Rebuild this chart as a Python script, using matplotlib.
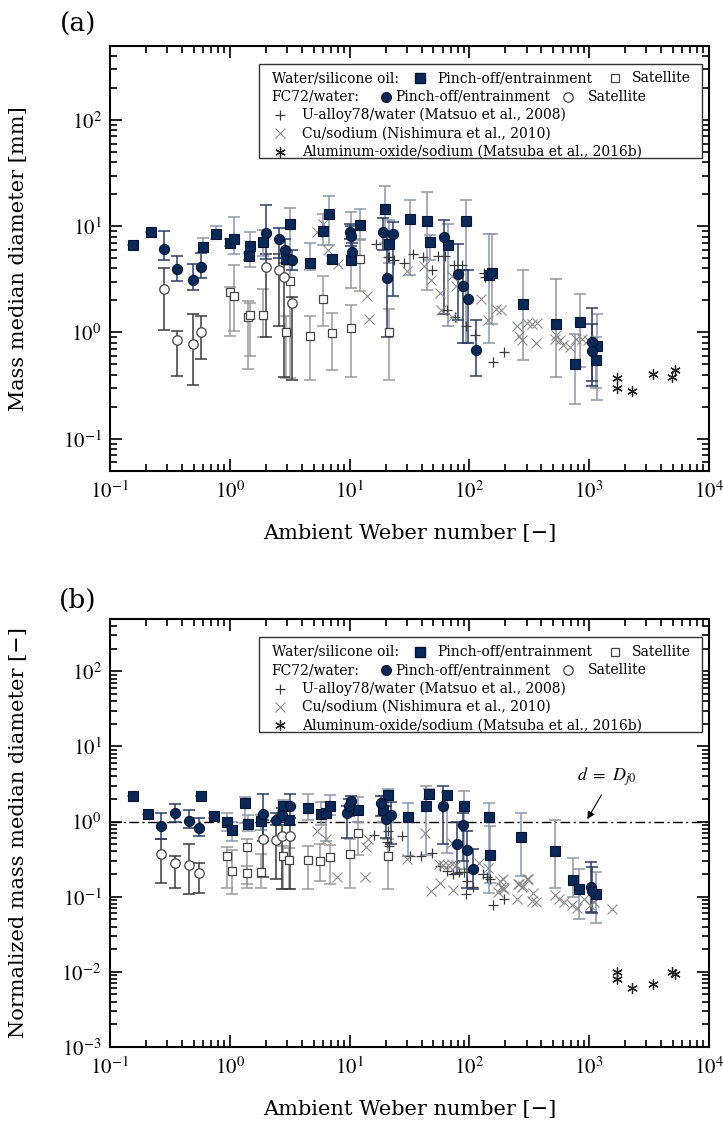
import numpy as np
import matplotlib
matplotlib.use('Agg')
import matplotlib.pyplot as plt
from matplotlib.ticker import LogLocator, FuncFormatter, NullFormatter
from matplotlib.patches import Rectangle

plt.rcParams['font.family'] = ['DejaVu Serif']
plt.rcParams['mathtext.fontset'] = 'stix'

# ---------------- Panel (a) data: Weber number, diameter [mm], error low, error high
a_fsq_x  = [0.157, 0.22, 0.60, 0.77, 1.0, 1.09, 1.44, 1.48, 1.9, 2.95, 3.2, 4.7, 6.0, 6.7, 7.1, 10.2, 12.3, 19.8, 21.5, 32, 44.5, 46.8, 66.5, 93, 146, 155, 279, 528, 762, 838, 1153, 1140]
a_fsq_y  = [6.7, 8.8, 6.4, 8.4, 7.0, 7.65, 5.2, 6.5, 7.1, 4.9, 10.6, 4.5, 9.0, 12.9, 4.9, 4.85, 10.2, 14.4, 6.8, 11.6, 11.2, 7.1, 6.7, 11.2, 3.45, 3.65, 1.86, 1.19, 0.50, 1.25, 0.75, 0.556]
a_fsq_lo = [6.7, 8.8, 5.7, 7.65, 6.5, 5.5, 4.8, 4.1, 5.3, 4.5, 4.95, 3.85, 6.6, 6.6, 4.5, 2.6, 7.4, 6.9, 4.5, 3.5, 2.5, 4.8, 1.14, 0.79, 0.79, 1.2, 0.55, 0.38, 0.21, 0.47, 0.23, 0.30]
a_fsq_hi = [6.7, 8.8, 7.7, 10.0, 7.5, 12.2, 5.6, 8.8, 9.2, 5.3, 14.7, 7.0, 12.9, 19.3, 5.3, 13.5, 14.6, 24.0, 11.4, 17.6, 20.8, 8.2, 10.6, 17.8, 8.5, 8.5, 3.9, 3.2, 0.97, 2.3, 1.48, 0.90]

a_fci_x  = [0.28, 0.365, 0.49, 0.578, 2.0, 2.57, 2.87, 3.3, 10.07, 10.2, 10.4, 19.1, 20.7, 23.1, 61.4, 81, 88, 98, 113.5, 1062, 1050]
a_fci_y  = [6.07, 3.93, 3.1, 4.13, 8.7, 7.5, 5.95, 4.78, 8.8, 8.05, 5.7, 8.8, 3.28, 8.53, 7.94, 3.52, 2.74, 2.08, 0.68, 0.82, 0.67]
a_fci_lo = [4.77, 3.03, 2.49, 3.25, 4.95, 5.0, 5.0, 3.9, 7.5, 6.5, 4.8, 6.0, 0.9, 2.2, 1.5, 1.3, 0.79, 0.79, 0.39, 0.31, 0.35]
a_fci_hi = [9.0, 5.2, 4.38, 5.6, 16.0, 9.6, 7.5, 6.0, 10.5, 10.0, 7.0, 12.0, 8.0, 11.0, 11.4, 6.76, 3.85, 3.85, 1.32, 1.69, 1.2]

a_osq_x  = [1.0, 1.09, 1.42, 1.47, 1.9, 2.95, 3.2, 4.7, 6.0, 7.1, 10.2, 12.3, 21.5]
a_osq_y  = [2.4, 2.19, 1.39, 1.45, 1.47, 1.01, 3.03, 0.93, 2.08, 0.99, 1.11, 4.95, 1.0]
a_osq_lo = [0.92, 1.04, 0.45, 0.6, 0.9, 0.37, 0.37, 0.36, 1.14, 0.44, 0.38, 2.47, 0.36]
a_osq_hi = [2.67, 4.28, 1.96, 1.9, 2.58, 1.42, 4.28, 1.42, 3.43, 1.52, 1.8, 7.65, 1.67]

a_oci_x  = [0.28, 0.365, 0.49, 0.578, 2.0, 2.57, 2.86, 3.33]
a_oci_y  = [2.56, 0.845, 0.787, 1.01, 4.1, 3.85, 3.33, 1.89]
a_oci_lo = [1.06, 0.39, 0.32, 0.565, 0.9, 1.16, 0.38, 0.36]
a_oci_hi = [4.07, 1.03, 1.5, 1.42, 5.5, 5.5, 4.5, 2.15]

a_ua_x = [16.6, 20.8, 21.5, 23.5, 28.6, 33.6, 40.8, 48.5, 55, 62.5, 64.7, 74, 76, 86, 94.5, 111, 132, 136, 156, 196]
a_ua_y = [6.76, 5.1, 5.1, 4.8, 4.5, 5.5, 5.1, 3.85, 5.2, 5.2, 1.64, 4.3, 1.39, 4.3, 1.16, 0.94, 3.6, 3.3, 0.53, 0.65]

a_cu_x = [5.3, 5.95, 6.6, 8.05, 14.1, 14.5, 29.9, 42, 47.6, 57, 57.5, 71.5, 71.5, 78, 124, 142, 166, 185, 251, 262, 277, 302, 333, 359, 370, 516, 528, 570, 608, 690, 774, 877, 970]
a_cu_y = [8.8, 10.6, 6.03, 4.45, 2.2, 1.35, 3.76, 4.2, 3.14, 2.35, 1.64, 1.39, 3.4, 2.73, 2.08, 1.3, 1.68, 1.62, 1.16, 0.93, 0.85, 1.24, 1.19, 0.79, 1.24, 0.87, 0.95, 0.84, 0.76, 0.73, 0.87, 0.87, 0.84]

a_al_x = [1695, 1695, 2260, 3385, 4880, 5200]
a_al_y = [0.37, 0.30, 0.28, 0.41, 0.38, 0.44]

# ---------------- Panel (b) data: normalized diameter
b_fsq_x  = [0.155, 0.209, 0.575, 0.74, 0.95, 1.05, 1.35, 1.41, 1.84, 2.76, 3.1, 4.5, 5.73, 6.4, 6.85, 11.8, 19, 20.8, 31, 43.5, 45.7, 64.9, 90, 145, 150, 270, 519, 730, 817, 1135]
b_fsq_y  = [2.21, 1.27, 2.17, 1.2, 0.99, 0.77, 1.77, 0.94, 1.01, 1.63, 1.06, 1.52, 1.27, 1.28, 1.63, 1.44, 1.44, 2.23, 1.15, 1.6, 2.36, 2.23, 1.6, 1.15, 0.36, 0.62, 0.40, 0.166, 0.128, 0.11]
b_fsq_lo = [2.21, 1.27, 2.17, 1.1, 0.74, 0.55, 0.96, 0.74, 0.78, 1.4, 1.06, 1.06, 0.91, 0.55, 1.24, 1.0, 1.0, 1.0, 0.346, 0.36, 2.0, 0.38, 0.23, 0.113, 0.15, 0.187, 0.13, 0.10, 0.05, 0.045]
b_fsq_hi = [2.21, 1.27, 2.17, 1.3, 1.28, 1.0, 2.13, 1.21, 1.24, 1.96, 1.06, 2.36, 1.8, 1.8, 2.23, 2.1, 2.2, 2.74, 1.77, 2.94, 2.7, 2.5, 2.53, 1.77, 0.87, 1.28, 1.06, 0.33, 0.23, 0.21]

b_fci_x  = [0.265, 0.35, 0.46, 0.55, 1.9, 2.44, 2.73, 3.2, 9.5, 9.9, 10.3, 18.2, 20, 22.2, 59.7, 78.7, 88, 95.5, 108, 1030, 1050]
b_fci_y  = [0.87, 1.3, 1.03, 0.82, 1.27, 1.06, 1.21, 1.6, 1.28, 1.6, 1.86, 1.77, 1.09, 1.21, 1.6, 0.505, 0.91, 0.416, 0.23, 0.136, 0.12]
b_fci_lo = [0.59, 1.0, 0.82, 0.65, 0.55, 0.9, 1.0, 1.1, 0.6, 1.2, 1.5, 1.2, 0.6, 0.5, 0.5, 0.2, 0.3, 0.13, 0.128, 0.062, 0.06]
b_fci_hi = [1.28, 1.72, 1.44, 1.12, 2.36, 1.3, 1.5, 2.36, 1.6, 2.0, 2.2, 2.2, 1.6, 1.8, 2.94, 1.0, 1.3, 0.74, 0.43, 0.29, 0.25]

b_osq_x  = [0.95, 1.05, 1.38, 1.4, 1.84, 2.8, 3.1, 4.5, 5.7, 6.85, 10, 11.8, 21.1]
b_osq_y  = [0.346, 0.223, 0.46, 0.208, 0.212, 0.346, 0.306, 0.31, 0.30, 0.336, 0.37, 0.71, 0.346]
b_osq_lo = [0.13, 0.107, 0.146, 0.13, 0.13, 0.125, 0.125, 0.125, 0.16, 0.146, 0.13, 0.36, 0.125]
b_osq_hi = [0.46, 0.42, 0.59, 0.255, 0.375, 0.47, 0.45, 0.47, 0.5, 0.49, 0.59, 1.0, 0.59]

b_oci_x  = [0.265, 0.35, 0.46, 0.55, 1.9, 2.44, 2.73, 3.2]
b_oci_y  = [0.37, 0.28, 0.266, 0.208, 0.59, 0.56, 0.65, 0.64]
b_oci_lo = [0.153, 0.13, 0.107, 0.113, 0.18, 0.17, 0.125, 0.125]
b_oci_hi = [0.59, 0.35, 0.5, 0.28, 1.06, 1.01, 0.91, 0.9]

b_ua_x = [16, 20.8, 20.5, 21.5, 27.3, 31.8, 39.6, 48.3, 57, 65, 72.5, 82, 90, 95.7, 94, 108, 130, 139, 148, 156, 195]
b_ua_y = [0.67, 0.74, 0.53, 0.47, 0.64, 0.35, 0.346, 0.38, 0.255, 0.22, 0.2, 0.21, 0.21, 0.16, 0.107, 0.136, 0.2, 0.18, 0.17, 0.077, 0.094]

b_cu_x = [5.3, 6.4, 7.9, 13.7, 14.3, 13.5, 30, 42.8, 71.5, 56, 60, 66, 72, 78, 48, 57, 72.5, 120, 142, 180, 184, 175, 195, 250, 256, 278, 302, 192, 192, 261, 275, 307, 332, 340, 360, 519, 557, 613, 717, 785, 912, 1010, 1105, 1543]
b_cu_y = [0.74, 0.59, 0.18, 0.46, 0.58, 0.185, 0.32, 0.71, 0.52, 0.27, 0.26, 0.265, 0.27, 0.26, 0.12, 0.15, 0.122, 0.28, 0.24, 0.16, 0.136, 0.115, 0.125, 0.094, 0.146, 0.138, 0.173, 0.17, 0.13, 0.146, 0.136, 0.173, 0.087, 0.113, 0.085, 0.104, 0.092, 0.085, 0.077, 0.071, 0.094, 0.077, 0.085, 0.069]

b_al_x = [1695, 1695, 2260, 3385, 4880, 5200]
b_al_y = [0.010, 0.0081, 0.0061, 0.0068, 0.010, 0.0093]

NAVY = '#0a2858'
EDGE = '#061633'


def errs(y, lo, hi):
    y = np.asarray(y); lo = np.asarray(lo); hi = np.asarray(hi)
    return [y - lo, hi - y]


def draw(ax, fsq, fci, osq, oci, ua, cu, al):
    eb = dict(fmt='none', capsize=4.2, elinewidth=1.1, capthick=1.1, zorder=2)
    ax.errorbar(osq[0], osq[1], yerr=errs(*osq[1:]), ecolor='#9b9b9b', **eb)
    ax.errorbar(oci[0], oci[1], yerr=errs(*oci[1:]), ecolor='#3a3a3a', **eb)
    ax.errorbar(fsq[0], fsq[1], yerr=errs(*fsq[1:]), ecolor='#8e96a8', **eb)
    ax.errorbar(fci[0], fci[1], yerr=errs(*fci[1:]), ecolor='#2a3d6a', **eb)
    ax.plot(ua[0], ua[1], ls='none', marker='+', ms=7.5, mew=0.9, color='#3a3a3a', zorder=3)
    ax.plot(cu[0], cu[1], ls='none', marker='x', ms=6.5, mew=0.8, color='#8a8a8a', zorder=3)
    ax.plot(al[0], al[1], ls='none', marker=(6, 2, 0), ms=7.5, mew=0.9, color='#222222', zorder=3)
    ax.plot(osq[0], osq[1], ls='none', marker='s', ms=6.3, mfc='white', mec='#444444', mew=0.9, zorder=4)
    ax.plot(oci[0], oci[1], ls='none', marker='o', ms=6.8, mfc='white', mec='#444444', mew=0.9, zorder=4)
    ax.plot(fsq[0], fsq[1], ls='none', marker='s', ms=6.6, mfc=NAVY, mec=EDGE, mew=0.8, zorder=5)
    ax.plot(fci[0], fci[1], ls='none', marker='o', ms=7.3, mfc=NAVY, mec=EDGE, mew=0.8, zorder=5)


def style(ax, ylim, xlabel, ylabel, ylab_x, xlab_y):
    ax.set_xscale('log'); ax.set_yscale('log')
    ax.set_xlim(0.1, 10000)
    ax.set_ylim(*ylim)
    fmt = FuncFormatter(lambda v, p: r'$10^{%d}$' % int(round(np.log10(v))))
    for axis in (ax.xaxis, ax.yaxis):
        axis.set_major_locator(LogLocator(base=10, numticks=20))
        axis.set_minor_locator(LogLocator(base=10, subs=np.arange(2, 10), numticks=20))
        axis.set_major_formatter(fmt)
        axis.set_minor_formatter(NullFormatter())
    ax.tick_params(which='both', direction='in', top=True, right=True, width=1.2, labelsize=15)
    ax.tick_params(which='major', length=8.5)
    ax.tick_params(which='minor', length=5)
    ax.tick_params(axis='x', pad=7)
    ax.tick_params(axis='y', pad=6)
    for s in ax.spines.values():
        s.set_linewidth(1.5)
    ax.set_xlabel(xlabel, fontsize=15)
    ax.set_ylabel(ylabel, fontsize=15)
    ax.yaxis.set_label_coords(ylab_x, 0.5)
    ax.xaxis.set_label_coords(0.5, xlab_y)


def legend(ax):
    fs = 10.0
    ax.add_patch(Rectangle((0.249, 0.736), 0.739, 0.221, transform=ax.transAxes,
                           facecolor='white', edgecolor='#333333', lw=1.0, zorder=8))
    rows = [0.923, 0.880, 0.837, 0.794, 0.751]
    kw = dict(transform=ax.transAxes, va='center', ha='left', fontsize=fs, zorder=9)
    mk = dict(transform=ax.transAxes, ls='none', zorder=9, clip_on=False)
    ax.text(0.270, rows[0], 'Water/silicone oil:', **kw)
    ax.plot([0.518], [rows[0]], marker='s', ms=6.5, mfc=NAVY, mec=EDGE, **mk)
    ax.text(0.546, rows[0], 'Pinch-off/entrainment', **kw)
    ax.plot([0.843], [rows[0]], marker='s', ms=6.3, mfc='white', mec='#444444', mew=0.9, **mk)
    ax.text(0.871, rows[0], 'Satellite', **kw)
    ax.text(0.270, rows[1], 'FC72/water:', **kw)
    ax.plot([0.460], [rows[1]], marker='o', ms=7, mfc=NAVY, mec=EDGE, **mk)
    ax.text(0.477, rows[1], 'Pinch-off/entrainment', **kw)
    ax.plot([0.764], [rows[1]], marker='o', ms=6.8, mfc='white', mec='#444444', mew=0.9, **mk)
    ax.text(0.797, rows[1], 'Satellite', **kw)
    ax.plot([0.284], [rows[2]], marker='+', ms=7.5, mew=0.9, color='#3a3a3a', **mk)
    ax.text(0.320, rows[2], 'U-alloy78/water (Matsuo et al., 2008)', **kw)
    ax.plot([0.284], [rows[3]], marker='x', ms=6.5, mew=0.8, color='#8a8a8a', **mk)
    ax.text(0.320, rows[3], 'Cu/sodium (Nishimura et al., 2010)', **kw)
    ax.plot([0.284], [rows[4]], marker=(6, 2, 0), ms=7.5, mew=0.9, color='#222222', **mk)
    ax.text(0.320, rows[4], 'Aluminum-oxide/sodium (Matsuba et al., 2016b)', **kw)


fig = plt.figure(figsize=(7.23, 11.26), dpi=100)
ax1 = fig.add_axes([0.1521, 0.5820, 0.8285, 0.3774])
ax2 = fig.add_axes([0.1521, 0.0702, 0.8285, 0.3803])

draw(ax1, (a_fsq_x, a_fsq_y, a_fsq_lo, a_fsq_hi), (a_fci_x, a_fci_y, a_fci_lo, a_fci_hi),
     (a_osq_x, a_osq_y, a_osq_lo, a_osq_hi), (a_oci_x, a_oci_y, a_oci_lo, a_oci_hi),
     (a_ua_x, a_ua_y), (a_cu_x, a_cu_y), (a_al_x, a_al_y))
style(ax1, (0.05, 500), 'Ambient Weber number [\u2212]', 'Mass median diameter [mm]', -0.137, -0.125)
legend(ax1)

draw(ax2, (b_fsq_x, b_fsq_y, b_fsq_lo, b_fsq_hi), (b_fci_x, b_fci_y, b_fci_lo, b_fci_hi),
     (b_osq_x, b_osq_y, b_osq_lo, b_osq_hi), (b_oci_x, b_oci_y, b_oci_lo, b_oci_hi),
     (b_ua_x, b_ua_y), (b_cu_x, b_cu_y), (b_al_x, b_al_y))
ax2.axhline(1.0, color='black', lw=1.0, dashes=(7, 2.5, 1.5, 2.5), zorder=1)
style(ax2, (0.001, 500), 'Ambient Weber number [\u2212]', 'Normalized mass median diameter [\u2212]', -0.137, -0.125)
legend(ax2)
ax2.annotate('', xy=(940, 1.0), xytext=(1300, 2.43),
             arrowprops=dict(arrowstyle='-|>', color='black', lw=0.8, mutation_scale=11))
ax2.text(1400, 3.96, r'$d\ =\ D_{j0}$', ha='center', va='center', fontsize=13)

fig.text(0.108, 1 - 24 / 1126, '(a)', ha='center', va='center', fontsize=19)
fig.text(0.108, 1 - 600 / 1126, '(b)', ha='center', va='center', fontsize=19)

fig.savefig('out.png', dpi=100)
